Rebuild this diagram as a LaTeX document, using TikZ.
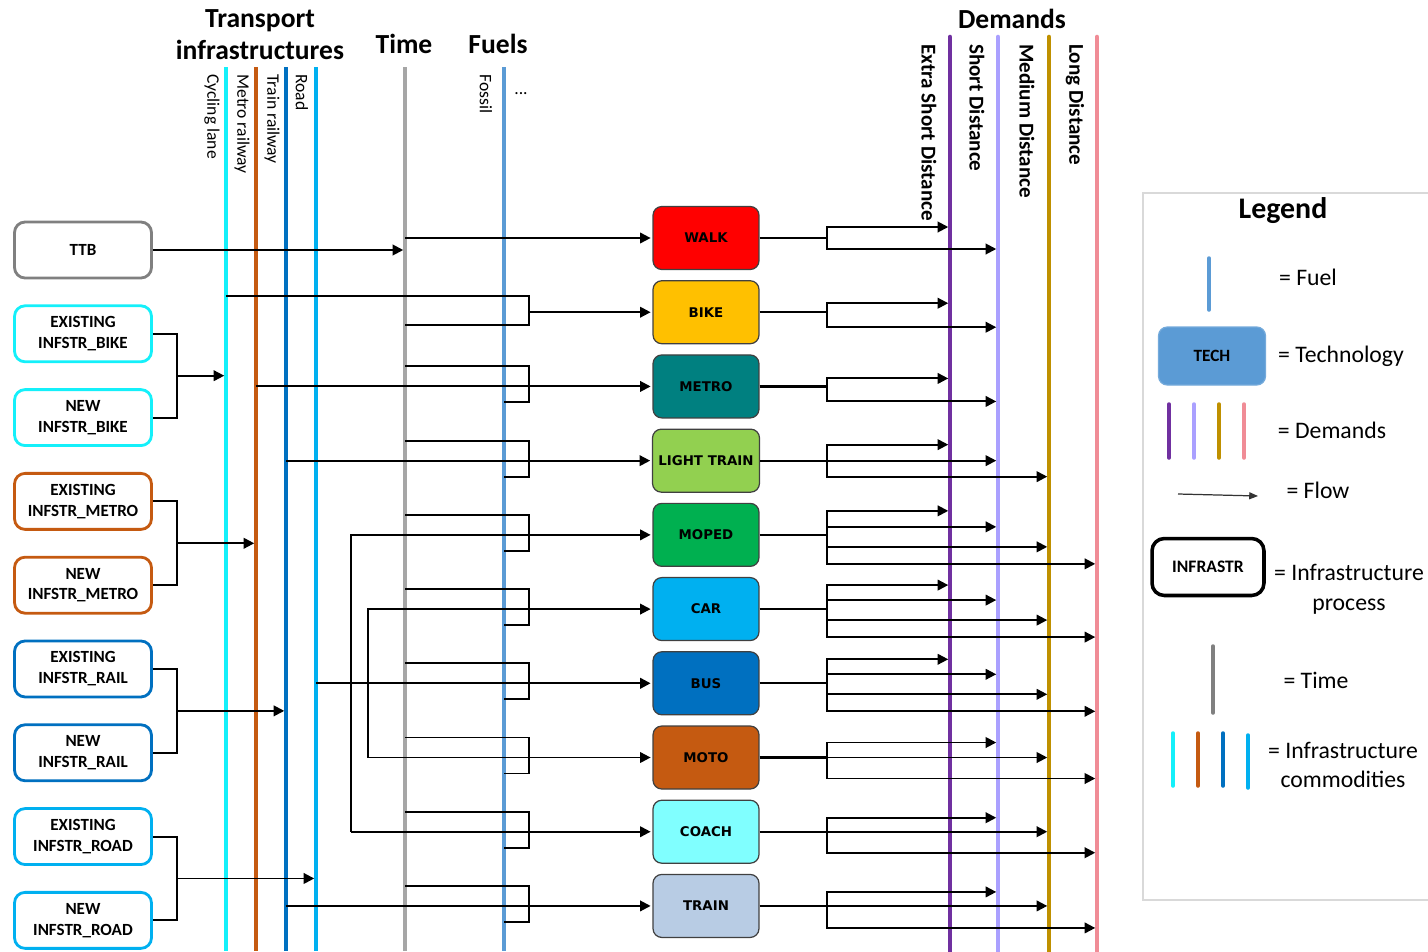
\documentclass[tikz,border=0pt]{standalone}
\usepackage{fontspec}
\setmainfont{Carlito}
\newfontfamily\techfont{DejaVu Sans}
\usepackage{tikz}
\usetikzlibrary{arrows.meta, positioning, calc}
\definecolor{cyclecol}{RGB}{20,240,250}
\definecolor{metrocol}{RGB}{197,90,17}
\definecolor{railcol}{RGB}{0,112,192}
\definecolor{roadcol}{RGB}{0,176,240}
\definecolor{timecol}{RGB}{166,166,166}
\definecolor{ttbcol}{RGB}{128,128,128}
\definecolor{fuelcol}{RGB}{91,155,213}
\definecolor{xsdcol}{RGB}{112,48,160}
\definecolor{sdcol}{RGB}{170,160,255}
\definecolor{mdcol}{RGB}{191,144,0}
\definecolor{ldcol}{RGB}{240,140,150}
\definecolor{walkcol}{RGB}{255,0,0}
\definecolor{bikecol}{RGB}{255,192,0}
\definecolor{metrofill}{RGB}{0,128,128}
\definecolor{ltraincol}{RGB}{146,208,80}
\definecolor{mopedcol}{RGB}{0,176,80}
\definecolor{carcol}{RGB}{0,176,240}
\definecolor{buscol}{RGB}{0,112,192}
\definecolor{motocol}{RGB}{197,90,17}
\definecolor{coachcol}{RGB}{128,255,255}
\definecolor{traincol}{RGB}{184,204,228}
\definecolor{legborder}{RGB}{217,217,217}
\tikzstyle{infra}=[rectangle, rounded corners=6pt, minimum width=2.74cm,
  minimum height=1.12cm, line width=1.6pt, fill=white, align=center,
  font=\bfseries\fontsize{9.7}{11.9}\selectfont]
\tikzstyle{tech}=[rectangle, rounded corners=5pt, minimum width=2.12cm,
  minimum height=1.26cm, draw=black!75, line width=0.7pt,
  font=\techfont\bfseries\fontsize{7.6}{9}\selectfont]
\tikzstyle{flow}=[-{Triangle[length=6pt,width=6pt]}, line width=1.1pt, shorten >=1pt]
\tikzstyle{link}=[line width=1.1pt]
\tikzstyle{commodity}=[line width=2pt]
\tikzstyle{demand}=[line width=2.6pt, line cap=round]
\tikzstyle{header}=[font=\bfseries\fontsize{15.7}{18.2}\selectfont, align=center]
\tikzstyle{vlabel}=[rotate=-90, anchor=west, inner sep=0pt, font=\fontsize{10}{12}\selectfont]
\tikzstyle{dlabel}=[rotate=-90, anchor=west, inner sep=0pt, font=\bfseries\fontsize{12}{14}\selectfont]
\tikzstyle{legtext}=[align=center, font=\fontsize{13.5}{17}\selectfont]
\tikzstyle{legline}=[line width=2pt, line cap=round]
% outputs of one technology towards the demand lines
\newcommand{\demandfan}[2]{%
  \draw[link, line width=1.3pt] (#1.east) -- (#1.east -| obk);
  \foreach \dy/\dl in {#2}
    \draw[flow] (#1.east -| obk) |- ($(#1.east -| \dl)+(0,\dy)$);
}

\begin{document}
\begin{tikzpicture}[x=0.02cm, y=-0.02cm]
  \useasboundingbox (0,0) rectangle (1428,951);
  % headers
  \node[header] (hinfra) at (260,35) {Transport\\infrastructures};
  \node[header] (htime) at (404,44) {Time};
  \node[header] (hfuel) at (498,44) {Fuels};
  \node[header] (hdem) at (1012,19) {Demands};
  % commodity lines
  \draw[commodity, cyclecol] (226,67) coordinate (cyc) -- (226,951);
  \draw[commodity, metrocol] (256,67) coordinate (met) -- (256,951);
  \draw[commodity, railcol] (286,67) coordinate (rai) -- (286,951);
  \draw[commodity, roadcol] (316,67) coordinate (roa) -- (316,951);
  \draw[line width=2.6pt, timecol] (405,67) coordinate (tim) -- (405,951);
  \draw[line width=1.8pt, fuelcol] (504,67) coordinate (fos) -- (504,951);
  \draw[demand, xsdcol] (950,37) coordinate (xsd) -- (950,960);
  \draw[demand, sdcol] (998,37) coordinate (sd) -- (998,960);
  \draw[demand, mdcol] (1049,37) coordinate (md) -- (1049,960);
  \draw[demand, ldcol] (1097,37) coordinate (ld) -- (1097,960);
  \node[vlabel] (lcyc) at (212,74) {Cycling lane};
  \node[vlabel] (lmet) at (242,74) {Metro railway};
  \node[vlabel] (lrai) at (272,74) {Train railway};
  \node[vlabel] (lroa) at (302,74) {Road};
  \node[vlabel] (lfos) at (486,74) {Fossil};
  \node[font=\fontsize{10}{12}\selectfont] (ldots) at (521,94) {...};
  \node[dlabel] (lxsd) at (929,44) {Extra Short Distance};
  \node[dlabel] (lsd) at (977,44) {Short Distance};
  \node[dlabel] (lmd) at (1027,44) {Medium Distance};
  \node[dlabel] (lld) at (1075,44) {Long Distance};
  \coordinate (brk) at (529,0);
  \coordinate (obk) at (827,0);
  \coordinate (mcx) at (351,0);
  \coordinate (cmx) at (368,0);

  % infrastructure processes
  \node[infra, draw=ttbcol] (ttb) at (83,250) {TTB};
  \node[infra, draw=cyclecol, below=0.5cm of ttb] (exbike) {EXISTING\\INFSTR\_BIKE};
  \node[infra, draw=cyclecol, below=0.5cm of exbike] (newbike) {NEW\\INFSTR\_BIKE};
  \node[infra, draw=metrocol, below=0.5cm of newbike] (exmetro) {EXISTING\\INFSTR\_METRO};
  \node[infra, draw=metrocol, below=0.5cm of exmetro] (newmetro) {NEW\\INFSTR\_METRO};
  \node[infra, draw=railcol, below=0.5cm of newmetro] (exrail) {EXISTING\\INFSTR\_RAIL};
  \node[infra, draw=railcol, below=0.5cm of exrail] (newrail) {NEW\\INFSTR\_RAIL};
  \node[infra, draw=roadcol, below=0.5cm of newrail] (exroad) {EXISTING\\INFSTR\_ROAD};
  \node[infra, draw=roadcol, below=0.5cm of exroad] (newroad) {NEW\\INFSTR\_ROAD};

  % technologies
  \node[tech, fill=walkcol] (walk) at (706,238) {WALK};
  \node[tech, fill=bikecol, below=0.2cm of walk] (bike) {BIKE};
  \node[tech, fill=metrofill, below=0.2cm of bike] (metro) {METRO};
  \node[tech, fill=ltraincol, below=0.2cm of metro] (ltrain) {LIGHT TRAIN};
  \node[tech, fill=mopedcol, below=0.2cm of ltrain] (moped) {MOPED};
  \node[tech, fill=carcol, below=0.2cm of moped] (car) {CAR};
  \node[tech, fill=buscol, below=0.2cm of car] (bus) {BUS};
  \node[tech, fill=motocol, below=0.2cm of bus] (moto) {MOTO};
  \node[tech, fill=coachcol, below=0.2cm of moto] (coach) {COACH};
  \node[tech, fill=traincol, below=0.2cm of coach] (train) {TRAIN};

  % infrastructure flows
  \draw[flow] (ttb) -- (ttb -| tim);
  \foreach \e/\n/\l in {exbike/newbike/cyc, exmetro/newmetro/met,
                        exrail/newrail/rai, exroad/newroad/roa}{
    \draw[link] (\e.east) -- ++(24,0) |- (\n.east);
    \coordinate (j) at ($(\e.east)!.5!(\n.east)+(24,0)$);
    \draw[flow] (j) -- (j -| \l);
  }

  % inputs of the technologies
  \draw[flow] (walk.west -| tim) -- (walk.west);
  \draw[link] ($(bike.west -| cyc)+(0,-16)$) -| ($(bike.west -| brk)+(0,13)$)
    -- ($(bike.west -| tim)+(0,13)$);
  \draw[flow] (bike.west -| brk) -- (bike.west);
  \foreach \t in {metro, ltrain, moped, car, bus, moto, coach, train}
    \draw[link] ($(\t.west -| tim)+(0,-20)$) -| ($(\t.west -| brk)+(0,16)$)
      -- ($(\t.west -| fos)+(0,16)$);
  \draw[flow] (metro.west -| met) -- (metro.west);
  \draw[flow] (ltrain.west -| rai) -- (ltrain.west);
  \draw[flow] (train.west -| rai) -- (train.west);
  \draw[flow, line width=1.3pt] (bus.west -| roa) -- (bus.west);
  \draw[flow] (coach.west -| mcx) |- (moped.west);
  \draw[flow] (coach.west -| mcx) -- (coach.west);
  \draw[flow] (moto.west -| cmx) |- (car.west);
  \draw[flow] (moto.west -| cmx) -- (moto.west);

  % outputs to the demands
  \demandfan{walk}{-11/xsd, 11/sd}
  \demandfan{bike}{-9/xsd, 15/sd}
  \demandfan{metro}{-8/xsd, 15/sd}
  \demandfan{ltrain}{-16/xsd, 0/sd, 16/md}
  \demandfan{moped}{-24/xsd, -8/sd, 12/md, 29/ld}
  \demandfan{car}{-24/xsd, -9/sd, 11/md, 28/ld}
  \demandfan{bus}{-24/xsd, -9/sd, 11/md, 28/ld}
  \demandfan{moto}{-15/sd, 0/md, 21/ld}
  \demandfan{coach}{-14/sd, 0/md, 21/ld}
  \demandfan{train}{-14/sd, 0/md, 22/ld}

  % legend
  \draw[legborder, line width=0.8pt] (1440,193) -- (1143,193) -- (1143,900) -- (1440,900);
  \node[font=\bfseries\fontsize{17}{20}\selectfont] (legtitle) at (1283,211) {Legend};
  \draw[legline, fuelcol] (1209,258) -- (1209,310);
  \node[legtext] (lgfuel) at (1308,277) {= Fuel};
  \node[tech, fill=fuelcol, draw=fuelcol!85!white, minimum width=2.14cm,
    minimum height=1.16cm, font=\bfseries\fontsize{9.8}{12}\selectfont] (lgtech) at (1212,356) {TECH};
  \node[legtext] (lgtechtxt) at (1341,356) {= Technology};
  \draw[legline, xsdcol] (1169,404) -- (1169,458);
  \draw[legline, sdcol] (1194,404) -- (1194,458);
  \draw[legline, mdcol] (1219,404) -- (1219,458);
  \draw[legline, ldcol] (1244,404) -- (1244,458);
  \node[legtext] (lgdem) at (1332,430) {= Demands};
  \coordinate (flowa) at (1178,494);
  \coordinate (flowb) at (1258,496);
  \draw[-{Triangle[length=5pt,width=4pt]}, line width=0.7pt, black!80] (flowa) -- (flowb);
  \node[legtext] (lgflow) at (1318,490) {= Flow};
  \node[infra, draw=black, line width=2pt, minimum width=2.24cm, minimum height=1.14cm,
    rounded corners=7pt, font=\bfseries\fontsize{10}{12}\selectfont] (lginfra) at (1208,567) {INFRASTR};
  \node[legtext] (lginfratxt) at (1349,589) {= Infrastructure\\process};
  \draw[legline, ttbcol] (1213,646) -- (1213,713);
  \node[legtext] (lgtime) at (1316,680) {= Time};
  \draw[legline, cyclecol] (1173,733) -- (1173,786);
  \draw[legline, metrocol] (1198,733) -- (1198,786);
  \draw[legline, railcol] (1223,733) -- (1223,786);
  \draw[legline, roadcol] (1248,735) -- (1248,788);
  \node[legtext] (lgcom) at (1343,765) {= Infrastructure\\commodities};
\end{tikzpicture}
\end{document}
